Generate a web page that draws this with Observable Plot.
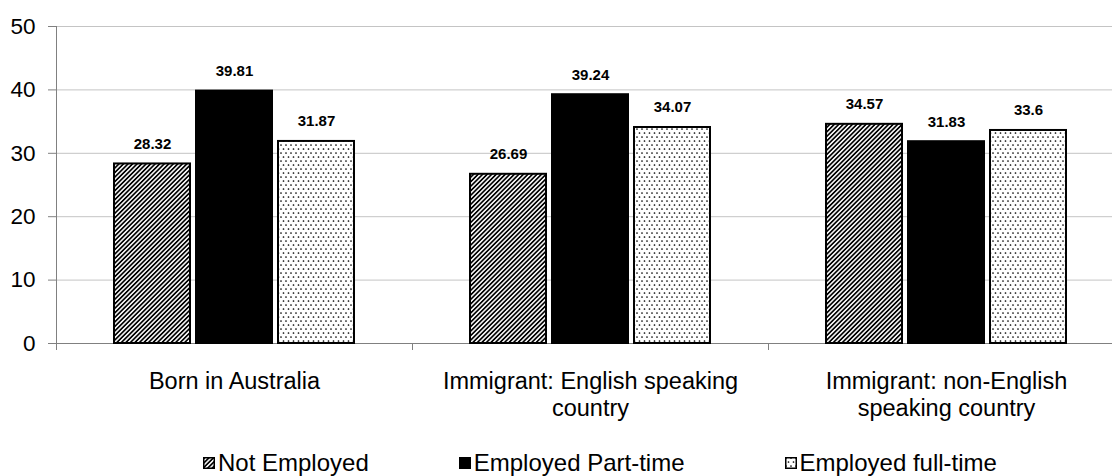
<!DOCTYPE html>
<html>
<head>
<meta charset="utf-8">
<script src="https://cdn.jsdelivr.net/npm/d3@7"></script>
<script src="https://cdn.jsdelivr.net/npm/@observablehq/plot@0.6"></script>
<style>
  html, body { margin: 0; padding: 0; background: #fff; overflow: hidden; }
  body { font-family: "Liberation Sans", Arial, sans-serif; width: 1112px; }
  #legend { display: flex; align-items: center; height: 36px; padding-left: 203px; padding-top: 10px; box-sizing: border-box;
            font-size: 24px; color: #000; }
  .lg-item { display: flex; align-items: center; }
  .lg-item:nth-child(1) { margin-right: 90px; }
  .lg-item:nth-child(2) { margin-right: 100px; }
  .lg-item svg { margin-right: 3px; display: block; }
</style>
</head>
<body>
<div id="chart"></div>
<div id="legend"></div>
<script>
// ---- data ----
const groups = ["Born in Australia", "Immigrant: English speaking country", "Immigrant: non-English speaking country"];
const groupLabels = ["Born in Australia", "Immigrant: English speaking\ncountry", "Immigrant: non-English\nspeaking country"];
const statuses = ["Not Employed", "Employed Part-time", "Employed full-time"];
const notEmployed = [28.32, 26.69, 34.57];
const partTime = [39.81, 39.24, 31.83];
const fullTime = [31.87, 34.07, 33.6];
const yTicks = [0, 10, 20, 30, 40, 50];
const fills = ["url(#hatch)", "#000000", "url(#dots)"];

const series = [notEmployed, partTime, fullTime];
const data = groups.flatMap((g, i) => statuses.map((s, j) => ({group: g, status: s, value: series[j][i]})));

const font = '"Liberation Sans", Arial, sans-serif';

const plot = Plot.plot({
  width: 1112,
  height: 440,
  marginLeft: 56,
  marginTop: 26,
  marginBottom: 97,
  marginRight: 0,
  style: {fontFamily: font, background: "#fff", overflow: "visible"},
  fx: {domain: groups, range: [56, 1124], padding: 0, label: null},
  x: {domain: statuses, paddingInner: 0.07, paddingOuter: 0.68, axis: null},
  y: {domain: [0, 50], label: null},
  color: {domain: statuses, range: fills},
  marks: [
    Plot.gridY(yTicks.slice(1), {stroke: "#c4c4c4", strokeOpacity: 1}),
    Plot.ruleY([0], {stroke: "#808080"}),
    Plot.barY(data, {fx: "group", x: "status", y: "value", fill: "status", stroke: "#000", strokeWidth: 2}),
    Plot.text(data, {fx: "group", x: "status", y: "value", text: d => String(d.value), dy: -15,
      lineAnchor: "bottom", fontSize: 15, fontWeight: "bold", fill: "#000"}),
    Plot.axisY(yTicks, {tickSize: 8, tickPadding: 13, fontSize: 22.5, stroke: "#808080", fill: "#000", label: null}),
    Plot.axisFx({anchor: "bottom", tickSize: 0, tickPadding: 27, fontSize: 23.5, lineHeight: 1.12,
      tickFormat: d => groupLabels[groups.indexOf(d)], label: null, fill: "#000"})
  ]
});

// patterns
const svg = d3.select(plot);
const defs = svg.insert("defs", ":first-child");
const hatch = defs.append("pattern").attr("id", "hatch").attr("patternUnits", "userSpaceOnUse")
  .attr("width", 3.2).attr("height", 3.2).attr("patternTransform", "rotate(45)");
hatch.append("rect").attr("width", 3.2).attr("height", 3.2).attr("fill", "#fff");
hatch.append("line").attr("x1", 1.6).attr("y1", 0).attr("x2", 1.6).attr("y2", 3.2)
  .attr("stroke", "#000").attr("stroke-width", 1.7);
const dots = defs.append("pattern").attr("id", "dots").attr("patternUnits", "userSpaceOnUse")
  .attr("width", 5).attr("height", 8);
dots.append("rect").attr("width", 5).attr("height", 8).attr("fill", "#fff");
dots.append("circle").attr("cx", 1).attr("cy", 1).attr("r", 0.85).attr("fill", "#000");
dots.append("circle").attr("cx", 3.5).attr("cy", 5).attr("r", 0.85).attr("fill", "#000");

// axis line and category boundary ticks from the scales
const fx = plot.scale("fx"), y = plot.scale("y");
const y0 = y.apply(0), yTop = y.apply(50);
const bounds = groups.map(g => fx.apply(g));
const axisG = svg.append("g").attr("stroke", "#808080").attr("stroke-width", 1);
axisG.append("line").attr("x1", bounds[0] + 0.5).attr("x2", bounds[0] + 0.5).attr("y1", yTop).attr("y2", y0 + 7);
bounds.forEach(b => axisG.append("line").attr("x1", b + 0.5).attr("x2", b + 0.5).attr("y1", y0).attr("y2", y0 + 7));

document.getElementById("chart").appendChild(plot);

// legend
const color = plot.scale("color");
const legend = d3.select("#legend");
color.domain.forEach((s, i) => {
  const item = legend.append("div").attr("class", "lg-item");
  const sw = item.append("svg").attr("width", 12).attr("height", 12);
  sw.append("rect").attr("x", 0.75).attr("y", 0.75).attr("width", 10.5).attr("height", 10.5)
    .attr("fill", color.range[i]).attr("stroke", "#000").attr("stroke-width", 1.5);
  item.append("span").text(s);
});
</script>
</body>
</html>
